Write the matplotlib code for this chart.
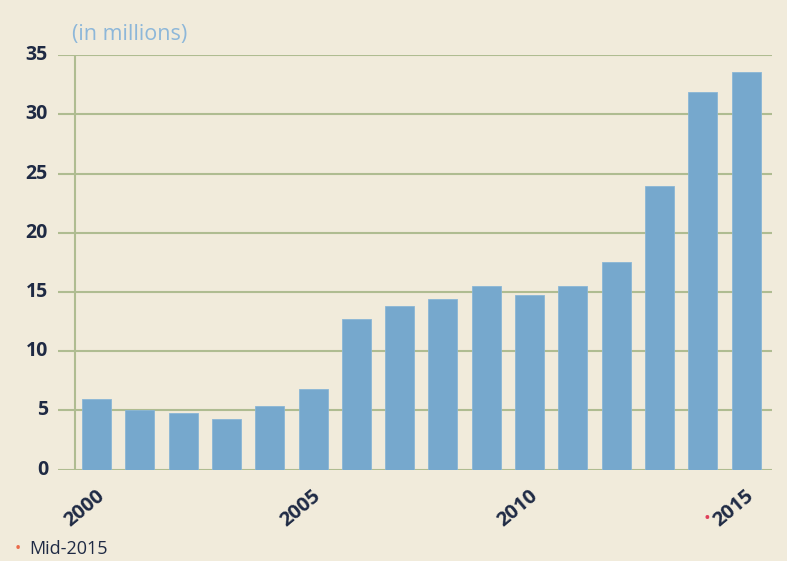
import matplotlib.pyplot as plt
import matplotlib.transforms as mtransforms

# values in millions, last year is mid-2015
years = list(range(2000, 2016))
values = [6.0, 5.0, 4.75, 4.3, 5.4, 6.8, 12.7, 13.8, 14.4, 15.55,
          14.75, 15.55, 17.5, 23.95, 31.9, 33.6]
yticks = [0, 5, 10, 15, 20, 25, 30, 35]
xlabels = {2000: "2000", 2005: "2005", 2010: "2010", 2015: "2015"}

bg = "#f1ebdb"
bar_color = "#76a8cd"
grid_color = "#afbc91"
text_color = "#1f2a44"

plt.rcParams["font.family"] = ["Open Sans", "DejaVu Sans"]

fig = plt.figure(figsize=(7.87, 5.61), dpi=100, facecolor=bg)
ax = fig.add_axes([0.0737, 0.163, 0.9073, 0.7384])
ax.set_facecolor(bg)

ax.set_xlim(1999.11, 2015.6)
ax.set_ylim(0, 35)

# horizontal rules and the vertical axis line
for y in yticks:
    ax.axhline(y, color=grid_color, lw=1.5, zorder=1)
ax.axvline(1999.5, color=grid_color, lw=1.5, zorder=1)

ax.bar(years, values, width=0.67, color=bar_color, edgecolor="#8ab6d6",
       linewidth=0.6, zorder=2)

for s in ax.spines.values():
    s.set_visible(False)
ax.set_xticks([])
ax.set_yticks([])

# y labels to the left of the rules
for y in yticks:
    ax.text(-0.014, y, str(y), transform=ax.get_yaxis_transform(),
            ha="right", va="center", fontsize=14, fontweight="bold",
            color=text_color)

# rotated year labels
off = mtransforms.ScaledTranslation(-1 / 100, -16 / 100, fig.dpi_scale_trans)
for yr, lab in xlabels.items():
    ax.text(yr, 0, lab, transform=ax.transData + off, rotation=40,
            rotation_mode="anchor", ha="right", va="top", fontsize=14.5,
            fontweight="bold", color=text_color)

# red marker before the 2015 label
ax.text(2015, 0, "\u2022", transform=ax.transData +
        mtransforms.ScaledTranslation(-39 / 100, -49 / 100, fig.dpi_scale_trans),
        ha="center", va="center", fontsize=13, color="#e0405a")

fig.text(0.091, 0.939, "(in millions)", ha="left", va="center",
         fontsize=15.5, color="#8db7d9")

fig.text(0.022, 0.022, "\u2022", ha="center", va="center",
         fontsize=12, color="#ea6a4a")
fig.text(0.037, 0.022, "Mid-2015", ha="left", va="center",
         fontsize=13, color=text_color)

fig.savefig("out.png", dpi=100, facecolor=bg)
